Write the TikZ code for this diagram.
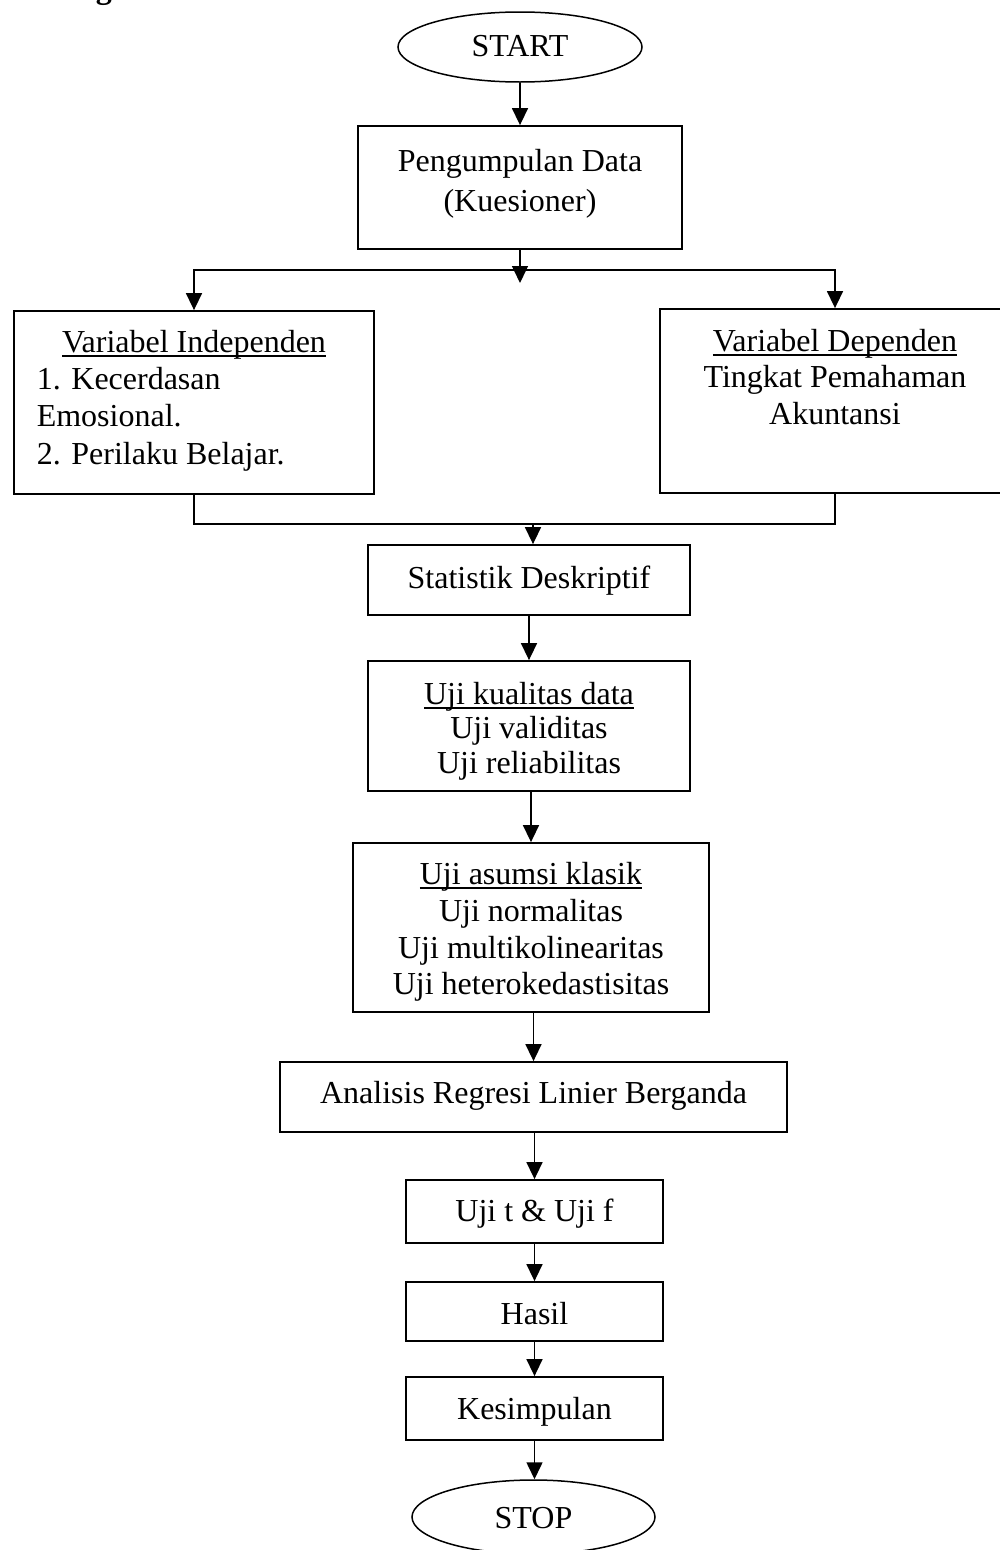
\documentclass[tikz,border=0pt]{standalone}
\usepackage{fontspec}
\setmainfont{Liberation Serif}
\usetikzlibrary{arrows.meta,shapes.geometric}
\newcommand\myul[1]{\setbox0\hbox{#1}\rlap{\vrule height -3pt depth 5pt width \wd0}\box0}
\begin{document}
\begin{tikzpicture}[x=1pt,y=-1pt,
  line width=1.5pt,
  txt/.style={font=\fontsize{32}{37}\selectfont},
  box/.style={draw, rectangle, line width=1.8pt, inner sep=0pt, align=center, txt},
  term/.style={draw, ellipse, line width=1.5pt, inner sep=0pt, txt},
  lbl/.style={inner sep=0pt, txt},
  arr/.style={-{Triangle[length=17pt,width=16pt]}}]
\useasboundingbox (0,0) rectangle (1000,1550);
\begin{scope}
\clip (0,0) rectangle (1000,1550);
% cut-off heading
\node[lbl, anchor=base west, font=\fontsize{32}{37}\selectfont\bfseries] (head) at (8,-2) {Kerangka Pemecahan Masalah};

\node[term, minimum width=244pt, minimum height=70pt] (start) at (520,47) {};
\node[lbl, anchor=base] (startt) at (520,56) {START};

\node[box, minimum width=324pt, minimum height=123pt] (pd) at (520,187.5) {};
\node[lbl, anchor=base] (pd1) at (520,171) {Pengumpulan Data};
\node[lbl, anchor=base] (pd2) at (520,211) {(Kuesioner)};

\node[box, minimum width=360pt, minimum height=183pt] (indep) at (194,402.5) {};
\node[lbl, anchor=base] (indep1) at (194,352) {\myul{Variabel Independen}};
\node[lbl, anchor=base west] (indep2) at (36,389) {1. Kecerdasan};
\node[lbl, anchor=base west] (indep3) at (36,426) {Emosional.};
\node[lbl, anchor=base west] (indep4) at (36,464) {2. Perilaku Belajar.};

\node[box, minimum width=350pt, minimum height=184pt] (dep) at (835,401) {};
\node[lbl, anchor=base] (dep1) at (835,351) {\myul{Variabel Dependen}};
\node[lbl, anchor=base] (dep2) at (835,387) {Tingkat Pemahaman};
\node[lbl, anchor=base] (dep3) at (835,424) {Akuntansi};

\node[box, minimum width=322pt, minimum height=70pt] (stat) at (529,580) {};
\node[lbl, anchor=base] (statt) at (529,588) {Statistik Deskriptif};

\node[box, minimum width=322pt, minimum height=130pt] (kual) at (529,726) {};
\node[lbl, anchor=base] (kual1) at (529,704) {\myul{Uji kualitas data}};
\node[lbl, anchor=base] (kual2) at (529,738) {Uji validitas};
\node[lbl, anchor=base] (kual3) at (529,773) {Uji reliabilitas};

\node[box, minimum width=356pt, minimum height=169pt] (asumsi) at (531,927.5) {};
\node[lbl, anchor=base] (as1) at (531,884) {\myul{Uji asumsi klasik}};
\node[lbl, anchor=base] (as2) at (531,921) {Uji normalitas};
\node[lbl, anchor=base] (as3) at (531,958) {Uji multikolinearitas};
\node[lbl, anchor=base] (as4) at (531,994) {Uji heterokedastisitas};

\node[box, minimum width=507pt, minimum height=70pt] (anal) at (533.5,1097) {};
\node[lbl, anchor=base] (analt) at (533.5,1103) {Analisis Regresi Linier Berganda};

\node[box, minimum width=257pt, minimum height=63pt] (ujit) at (534.5,1211.5) {};
\node[lbl, anchor=base] (ujitt) at (534.5,1221) {Uji t \& Uji f};

\node[box, minimum width=257pt, minimum height=59pt] (hasil) at (534.5,1311.5) {};
\node[lbl, anchor=base] (hasilt) at (534.5,1324) {Hasil};

\node[box, minimum width=257pt, minimum height=63pt] (kes) at (534.5,1408.5) {};
\node[lbl, anchor=base] (kest) at (534.5,1419) {Kesimpulan};

\node[term, minimum width=243pt, minimum height=74pt] (stop) at (533.5,1517) {};
\node[lbl, anchor=base] (stopt) at (533.5,1528) {STOP};

% connectors
\draw[arr] (start.south) -- (pd.north);
\coordinate (hub) at (520,270);
\coordinate (pdtip) at (520,283);
\draw[arr] (pd.south) -- (pdtip);
\draw[arr] (hub) -| (indep.north);
\draw[arr] (hub) -| (dep.north);
\coordinate (merge) at (533,524);
\draw (indep.south) |- (merge);
\draw (dep.south) |- (merge);
\draw[arr] (merge) -- (stat.north -| merge);
\draw[arr] (stat.south) -- (kual.north);
\draw[arr] (kual.south -| asumsi.north) -- (asumsi.north);
\draw[arr] (asumsi.south -| anal.north) -- (anal.north);
\draw[arr] (anal.south -| ujit.north) -- (ujit.north);
\draw[arr] (ujit.south) -- (hasil.north);
\draw[arr] (hasil.south) -- (kes.north);
\draw[arr] (kes.south) -- (stop.north -| kes.south);
\end{scope}
\end{tikzpicture}
\end{document}
